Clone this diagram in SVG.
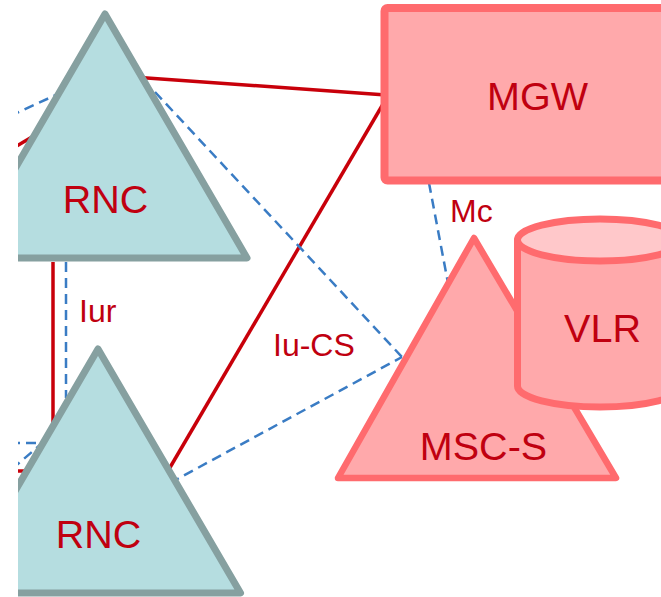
<svg xmlns="http://www.w3.org/2000/svg" width="661" height="597" viewBox="0 0 661 597">
<defs>
<clipPath id="clip"><rect x="18" y="0" width="643" height="597"/></clipPath>
<style>
.rnc{fill:#b5dde0;stroke:#86a0a0;stroke-width:7;stroke-linejoin:round}
.red{fill:#ffa9ab;stroke:#ff6b6e;stroke-width:7;stroke-linejoin:round}
.top{fill:#ffc8ca;stroke:#ff6b6e;stroke-width:7}
.solid{stroke:#c8000a;stroke-width:3.5;fill:none}
.dash{stroke:#3a7cc4;stroke-width:2.5;stroke-dasharray:10 6;fill:none}
.lbl{font-family:"Liberation Sans",Arial,sans-serif;fill:#c00010}
.big{font-size:39.5px;text-anchor:middle}
.small{font-size:32px}
</style>
</defs>
<rect width="661" height="597" fill="#ffffff"/>
<g clip-path="url(#clip)">
<g id="connectors">
<line class="solid" x1="140" y1="77.5" x2="386" y2="95"/>
<line class="solid" x1="165" y1="476" x2="386" y2="99"/>
<line class="solid" x1="53" y1="262" x2="53" y2="430"/>
<line class="solid" x1="10" y1="150" x2="42" y2="131"/>
<line class="solid" x1="10" y1="471" x2="36" y2="471"/>
<line class="solid" x1="10" y1="487" x2="33" y2="471"/>
<line class="dash" x1="10" y1="116" x2="58" y2="94"/>
<line class="dash" x1="155" y1="92" x2="402" y2="357"/>
<line class="dash" x1="170" y1="483" x2="402" y2="357"/>
<line class="dash" x1="66" y1="262" x2="66" y2="398"/>
<line class="dash" x1="429" y1="183" x2="448" y2="283"/>
<line class="dash" x1="10" y1="443" x2="42" y2="443"/>
<line class="dash" x1="12" y1="469" x2="40" y2="445"/>
</g>
<g id="rnc1">
<polygon class="rnc" points="105,14 247,258 -37,258"/>
<text class="lbl big" x="105.5" y="213">RNC</text>
</g>
<g id="rnc2">
<polygon class="rnc" points="98,349 240.5,593 -44.5,593"/>
<text class="lbl big" x="98.5" y="548">RNC</text>
</g>
<g id="mgw">
<rect class="red" x="384.5" y="8" width="300" height="172.5" rx="3" style="stroke-width:8"/>
<text class="lbl big" x="537.5" y="110">MGW</text>
</g>
<g id="msc">
<polygon class="red" points="474,238 616,478 338,478" style="stroke-width:6.5"/>
<text class="lbl big" x="483.5" y="460">MSC-S</text>
</g>
<g id="vlr">
<path class="red" d="M517.5,240 L517.5,386 A82.5,21 0 0 0 682.5,386 L682.5,240 Z"/>
<ellipse class="top" cx="600" cy="240" rx="82.5" ry="21"/>
<text class="lbl big" x="602.5" y="342">VLR</text>
</g>
<g id="labels">
<text class="lbl small" x="79" y="322">Iur</text>
<text class="lbl small" x="273" y="356">Iu-CS</text>
<text class="lbl small" x="450" y="222">Mc</text>
</g>
</g>
</svg>
